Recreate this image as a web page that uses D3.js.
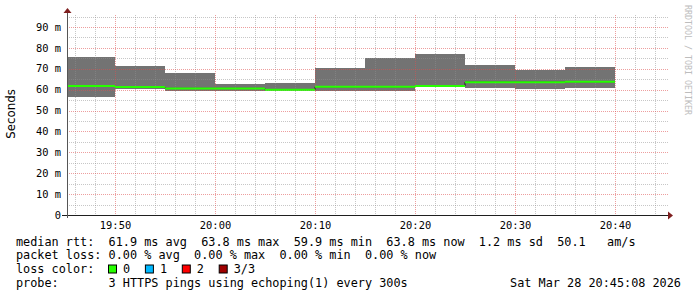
<!DOCTYPE html>
<html lang="en">
<head>
	<meta charset="UTF-8">
	<title>SmokePing - median rtt</title>

	<script src="https://cdn.jsdelivr.net/npm/d3@7/dist/d3.min.js"></script>

	<style>
		body{
			margin: 0;
			background: #fff;
		}
		text{
			font-family: "DejaVu Sans Mono", monospace;
		}
		.legend{
			font-size: 11.83px;
			white-space: pre;
		}
		.tick-label{
			font-size: 10.4px;
		}
	</style>

</head>
<body>

<script type="text/javascript">

	// step end times (5 minute steps)
	var stepEnds = ['19:50', '19:55', '20:00', '20:05', '20:10', '20:15',
		'20:20', '20:25', '20:30', '20:35', '20:40'];

	// median rtt per step, ms
	var median = [61.8, 61.3, 60.6, 60.6, 59.9, 61.4, 61.4, 61.7, 63.6, 63.6, 63.8];

	// smoke range per step, ms
	var smokeMin = [56.6, 60.3, 59.5, 59.5, 59.9, 59.5, 59.5, 61.2, 61.0, 60.4, 61.0];
	var smokeMax = [75.5, 71.3, 68.1, 62.9, 63.3, 70.4, 75.2, 77.1, 71.8, 69.4, 70.8];

	var yTicks = [0, 10, 20, 30, 40, 50, 60, 70, 80, 90];
	var xTicks = ['19:50', '20:00', '20:10', '20:20', '20:30', '20:40'];

	var lossNames = ['0', '1', '2', '3/3'];
	var lossColors = ['#26ff00', '#00b8ff', '#ff0000', '#a00000'];

	var legendLines = [
		'median rtt:  61.9 ms avg  63.8 ms max  59.9 ms min  63.8 ms now  1.2 ms sd  50.1   am/s',
		'packet loss: 0.00 % avg  0.00 % max  0.00 % min  0.00 % now',
		'loss color:',
		'probe:       3 HTTPS pings using echoping(1) every 300s'
	];
	var stamp = 'Sat Mar 28 20:45:08 2026';

	window.onload = function () {

		var W = 697, H = 297;
		var left = 67, right = 667, top = 15, bottom = 215;

		var parse = d3.utcParse('%Y-%m-%d %H:%M:%S');
		var t = function (s) { return parse('2026-03-28 ' + s + (s.length === 5 ? ':00' : '')); };

		var svg = d3.select('body').append('svg')
			.attr('width', W)
			.attr('height', H);

		var x = d3.scaleUtc()
			.domain([t('19:45:10'), t('20:45:10')])
			.range([left, right]);

		var y = d3.scaleLinear()
			.domain([0, 95.74])
			.range([bottom, top]);

		var px = function (v) { return Math.round(v); };

		var steps = stepEnds.map(function (s, i) {
			var end = t(s);
			var start = new Date(end.getTime() - 300000);
			return {
				x0: Math.max(px(x(start)), left),
				x1: px(x(end)),
				med: median[i],
				lo: smokeMin[i],
				hi: smokeMax[i]
			};
		});

		// smoke
		svg.append('g').selectAll('rect')
			.data(steps)
			.enter().append('rect')
			.attr('x', function (d) { return d.x0; })
			.attr('width', function (d) { return d.x1 - d.x0; })
			.attr('y', function (d) { return px(y(d.hi)); })
			.attr('height', function (d) { return px(y(d.lo)) - px(y(d.hi)); })
			.attr('fill', '#737373');

		// grid (drawn over the graph, semi transparent like rrdtool)
		var minorX = d3.utcMinute.every(2).range(x.domain()[0], x.domain()[1]);
		var minorY = d3.range(5, 96, 5);
		var grid = svg.append('g').attr('shape-rendering', 'crispEdges');

		grid.selectAll('.vminor')
			.data(minorX.filter(function (d) { return d.getUTCMinutes() % 10 !== 0; }))
			.enter().append('line')
			.attr('x1', function (d) { return px(x(d)) + 0.5; })
			.attr('x2', function (d) { return px(x(d)) + 0.5; })
			.attr('y1', top).attr('y2', bottom)
			.attr('stroke', 'rgba(143,143,143,0.5)')
			.attr('stroke-dasharray', '1,1');

		grid.selectAll('.hminor')
			.data(minorY.filter(function (d) { return d % 10 !== 0; }))
			.enter().append('line')
			.attr('y1', function (d) { return px(y(d)) + 0.5; })
			.attr('y2', function (d) { return px(y(d)) + 0.5; })
			.attr('x1', left).attr('x2', right + 1)
			.attr('stroke', 'rgba(143,143,143,0.5)')
			.attr('stroke-dasharray', '1,1');

		grid.selectAll('.vmajor')
			.data(xTicks)
			.enter().append('line')
			.attr('x1', function (d) { return px(x(t(d))) + 0.5; })
			.attr('x2', function (d) { return px(x(t(d))) + 0.5; })
			.attr('y1', top).attr('y2', bottom)
			.attr('stroke', 'rgba(222,79,79,0.55)')
			.attr('stroke-dasharray', '1,1');

		grid.selectAll('.hmajor')
			.data(yTicks.slice(1))
			.enter().append('line')
			.attr('y1', function (d) { return px(y(d)) + 0.5; })
			.attr('y2', function (d) { return px(y(d)) + 0.5; })
			.attr('x1', left).attr('x2', right + 1)
			.attr('stroke', 'rgba(222,79,79,0.55)')
			.attr('stroke-dasharray', '1,1');

		// dark median step line
		var pts = steps.map(function (d) { return [d.x0, y(d.med)]; });
		pts.push([steps[steps.length - 1].x1, y(median[median.length - 1])]);
		svg.append('path')
			.attr('d', d3.line().curve(d3.curveStepAfter)(pts))
			.attr('fill', 'none')
			.attr('stroke', '#202020')
			.attr('stroke-width', 1);

		// loss coloured median
		svg.append('g').selectAll('line')
			.data(steps)
			.enter().append('line')
			.attr('x1', function (d) { return d.x0; })
			.attr('x2', function (d) { return d.x1; })
			.attr('y1', function (d) { return y(d.med); })
			.attr('y2', function (d) { return y(d.med); })
			.attr('stroke', lossColors[0])
			.attr('stroke-width', 2);

		// axes
		var axes = svg.append('g').attr('shape-rendering', 'crispEdges');
		axes.append('line')
			.attr('x1', left - 5).attr('x2', right + 2)
			.attr('y1', bottom + 0.5).attr('y2', bottom + 0.5)
			.attr('stroke', '#1f1f1f');
		axes.append('line')
			.attr('x1', left + 0.5).attr('x2', left + 0.5)
			.attr('y1', bottom + 3).attr('y2', top - 3)
			.attr('stroke', '#555');

		svg.append('path')
			.attr('d', 'M' + (left - 3.5) + ',' + (top - 2) + 'L' + (left + 0.5) + ',' + (top - 7) +
				'L' + (left + 4.5) + ',' + (top - 2) + 'Z')
			.attr('fill', '#7f1f1f');
		svg.append('path')
			.attr('d', 'M' + (right + 1) + ',' + (bottom - 3.5) + 'L' + (right + 6) + ',' + (bottom + 0.5) +
				'L' + (right + 1) + ',' + (bottom + 4.5) + 'Z')
			.attr('fill', '#7f1f1f');

		// tick labels
		svg.append('g').selectAll('text')
			.data(yTicks)
			.enter().append('text')
			.attr('class', 'tick-label')
			.attr('x', 61)
			.attr('y', function (d) { return y(d) + 3.7; })
			.attr('text-anchor', 'end')
			.text(function (d) { return d === 0 ? '0' : d + ' m'; });

		svg.append('g').selectAll('text')
			.data(xTicks)
			.enter().append('text')
			.attr('class', 'tick-label')
			.attr('x', function (d) { return px(x(t(d))) + 0.5; })
			.attr('y', 228.5)
			.attr('text-anchor', 'middle')
			.text(function (d) { return d; });

		// vertical label
		svg.append('text')
			.attr('transform', 'translate(15,114) rotate(-90)')
			.attr('text-anchor', 'middle')
			.style('font-family', '"DejaVu Sans", sans-serif')
			.style('font-size', '11.8px')
			.text('Seconds');

		// watermark
		svg.append('text')
			.attr('transform', 'translate(685,5) rotate(90)')
			.style('font-size', '8.3px')
			.attr('fill', '#bdbdbd')
			.text('RRDTOOL / TOBI OETIKER');

		// legend
		var baselines = [245.8, 259.3, 273.3, 286.8];
		svg.append('g').selectAll('text')
			.data(legendLines)
			.enter().append('text')
			.attr('class', 'legend')
			.attr('x', 16)
			.attr('y', function (d, i) { return baselines[i]; })
			.text(function (d) { return d; });

		var loss = svg.append('g').selectAll('g')
			.data(lossNames)
			.enter().append('g')
			.attr('transform', function (d, i) { return 'translate(' + (108.5 + i * 36.9) + ',265)'; });
		loss.append('rect')
			.attr('width', 8).attr('height', 8)
			.attr('fill', function (d, i) { return lossColors[i]; })
			.attr('stroke', '#000')
			.attr('stroke-width', 1);
		loss.append('text')
			.attr('class', 'legend')
			.attr('x', 14.5)
			.attr('y', 8.3)
			.text(function (d) { return d; });

		svg.append('text')
			.attr('class', 'legend')
			.attr('x', 681)
			.attr('y', baselines[3])
			.attr('text-anchor', 'end')
			.text(stamp);
	};
</script>

</body>
</html>
